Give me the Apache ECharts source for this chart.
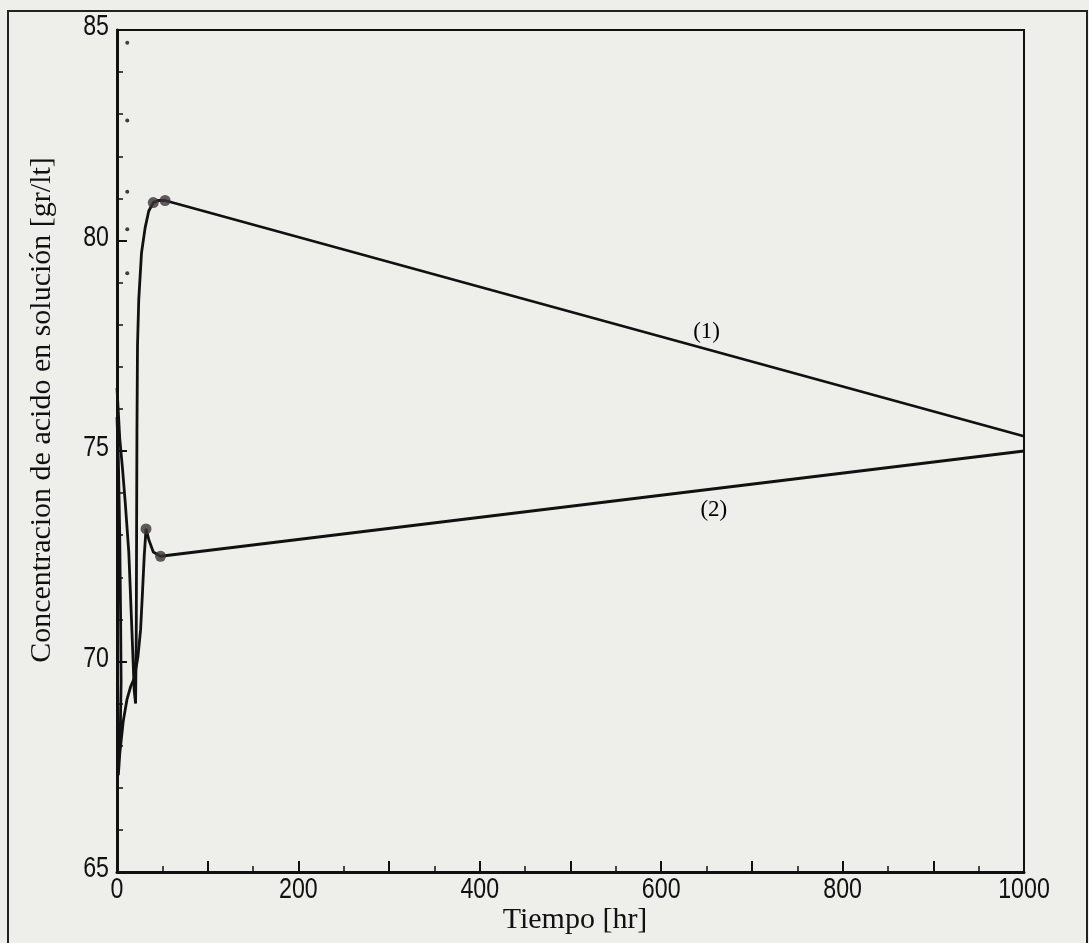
<!DOCTYPE html>
<html>
<head>
<meta charset="utf-8">
<script src="https://cdn.jsdelivr.net/npm/echarts@6/dist/echarts.min.js"></script>
<style>
  html, body { margin: 0; padding: 0; background: #eeeeeb; }
  #chart { width: 1089px; height: 943px; }
</style>
</head>
<body>
<div id="chart"></div>
<script>
// Curve (1): time [hr] and acid concentration [gr/lt]
const curve1Time  = [0, 1, 3, 6, 9, 13, 16.5, 19, 20.5, 21.2, 21.6, 22, 22.6, 24, 27, 31, 35, 40, 45, 53, 1000];
const curve1Conc  = [76.5, 76.1, 75.3, 74.6, 73.8, 72.6, 70.7, 69.3, 69.0, 70.5, 73.0, 75.5, 77.5, 78.6, 79.7, 80.3, 80.7, 80.9, 80.95, 80.95, 75.35];

// Curve (2)
const curve2Time  = [0, 1.5, 3, 4, 4.5, 3.5, 1.5, 3, 7, 11, 15, 19, 23, 26, 28, 30, 32, 35, 40, 48, 1000];
const curve2Conc  = [75.8, 74.8, 73.0, 71.0, 69.5, 68.2, 67.3, 67.8, 68.6, 69.1, 69.4, 69.6, 70.1, 70.75, 71.6, 72.5, 73.15, 72.9, 72.6, 72.5, 75.0];

// Highlighted points on both curves
const markTime = [40, 53, 32, 48];
const markConc = [80.9, 80.95, 73.15, 72.5];

// Dotted trace near the start
const dotTime = [11.3, 11.3, 11.3, 11.3, 11.3];
const dotConc = [84.7, 82.85, 81.16, 80.27, 79.22];

// Axis ticks
const xTicks = [0, 200, 400, 600, 800, 1000];
const yTicks = [65, 70, 75, 80, 85];

// Curve labels
const curveLabels = ['(1)', '(2)'];
const labelPos = [[650, 77.82], [658, 73.6]];

const xTitle = 'Tiempo [hr]';
const yTitle = 'Concentracion de acido en solución [gr/lt]';

const zip = (a, b) => a.map((v, i) => [v, b[i]]);

const chart = echarts.init(document.getElementById('chart'));
const serif = '"Liberation Serif", "DejaVu Serif", serif';
const sans = '"Liberation Sans", Arial, sans-serif';
const INK = '#111';

chart.setOption({
  backgroundColor: '#eeeeeb',
  animation: false,
  grid: {
    left: 117, top: 30, right: 65, bottom: 71,
    show: true, borderColor: INK, borderWidth: 2, backgroundColor: 'transparent'
  },
  xAxis: {
    type: 'value', min: xTicks[0], max: xTicks[xTicks.length - 1], interval: 100,
    axisLine: { onZero: false, lineStyle: { color: INK, width: 3 } },
    axisTick: { inside: true, length: 11, lineStyle: { color: INK, width: 2 } },
    minorTick: { show: true, splitNumber: 2, length: 6, lineStyle: { color: INK, width: 1.5 } },
    axisLabel: { show: false },
    splitLine: { show: false }
  },
  yAxis: {
    type: 'value', min: yTicks[0], max: yTicks[yTicks.length - 1], interval: 5,
    axisLine: { onZero: false, lineStyle: { color: INK, width: 3 } },
    axisTick: { inside: true, length: 10, lineStyle: { color: INK, width: 2 } },
    minorTick: { show: true, splitNumber: 5, length: 6, lineStyle: { color: INK, width: 1.5 } },
    axisLabel: { show: false },
    splitLine: { show: false }
  },
  series: [
    {
      type: 'line', data: zip(curve1Time, curve1Conc), showSymbol: false,
      lineStyle: { color: INK, width: 2.8 }, z: 3
    },
    {
      type: 'line', data: zip(curve2Time, curve2Conc), showSymbol: false,
      lineStyle: { color: INK, width: 2.8 }, z: 3
    },
    {
      type: 'scatter', data: zip(markTime, markConc), symbolSize: 11,
      itemStyle: { color: '#3a3535' }, z: 4
    },
    {
      type: 'scatter', data: zip(dotTime, dotConc), symbolSize: 4,
      itemStyle: { color: INK }, z: 4
    }
  ]
});

const toPx = (x, y) => chart.convertToPixel({ xAxisIndex: 0, yAxisIndex: 0 }, [x, y]);

// Outer frame
const graphics = [
  {
    type: 'rect', shape: { x: 8, y: 11, width: 1079, height: 940 },
    style: { fill: 'none', stroke: '#222', lineWidth: 2 }, z: -1
  }
];
// Tick labels in a condensed sans face, placed through the axis scales
const labelFont = '29px ' + sans;
xTicks.forEach(v => {
  const p = toPx(v, yTicks[0]);
  graphics.push({
    type: 'text', x: p[0], y: p[1] + 18, scaleX: 0.8, z: 10,
    style: { text: String(v), font: labelFont, fill: INK, align: 'center', verticalAlign: 'middle' }
  });
});
yTicks.forEach(v => {
  const p = toPx(xTicks[0], v);
  graphics.push({
    type: 'text', x: p[0] - 8, y: p[1] - 3, scaleX: 0.8, z: 10,
    style: { text: String(v), font: labelFont, fill: INK, align: 'right', verticalAlign: 'middle' }
  });
});
// Curve labels
curveLabels.forEach((t, i) => {
  const p = toPx(labelPos[i][0], labelPos[i][1]);
  graphics.push({
    type: 'text', x: p[0], y: p[1], z: 10,
    style: { text: t, font: '23px ' + serif, fill: '#000', align: 'center', verticalAlign: 'middle' }
  });
});
// Axis titles
graphics.push({
  type: 'text', x: 575, y: 920, z: 10,
  style: { text: xTitle, font: '30px ' + serif, fill: INK, align: 'center', verticalAlign: 'middle' }
});
graphics.push({
  type: 'text', x: 42, y: 410, rotation: Math.PI / 2, z: 10,
  style: { text: yTitle, font: '30px ' + serif, fill: INK, align: 'center', verticalAlign: 'middle' }
});
chart.setOption({ graphic: graphics });
</script>
</body>
</html>
